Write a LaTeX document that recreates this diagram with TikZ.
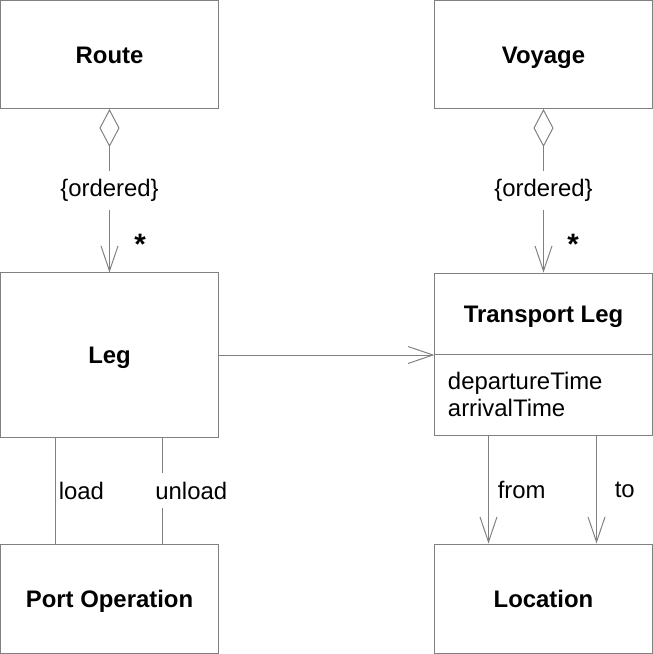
\documentclass[tikz,border=0pt]{standalone}
\usepackage{fontspec}
\setmainfont{Liberation Sans}
\usetikzlibrary{arrows.meta}
\definecolor{umlgray}{RGB}{128,128,128}

\begin{document}
\begin{tikzpicture}[x=0.025cm,y=-0.025cm,
  every node/.style={font=\fontsize{17}{19.8}\selectfont},
  classbox/.style={draw=umlgray,line width=0.7pt,minimum width=5.425cm,inner sep=0pt,
    text height=12.2pt,text depth=0pt,font=\fontsize{17}{19.8}\selectfont\bfseries},
  link/.style={draw=umlgray,line width=0.7pt},
  nav/.style={link,-{Straight Barb[length=0.625cm,width=0.425cm]}},
  agg/.style={link,{Diamond[open,length=0.95cm,width=0.5cm]}-{Straight Barb[length=0.625cm,width=0.425cm]}},
  gaplabel/.style={fill=white,inner xsep=1pt,inner ysep=6pt},
  rolelabel/.style={inner sep=2pt},
  multiplicity/.style={font=\fontsize{21}{24}\selectfont\bfseries}]
\useasboundingbox (0,0) rectangle (653,654);

% classes
\node[classbox,minimum height=2.7cm] (route) at (109.5,54.5) {Route};
\node[classbox,minimum height=2.7cm] (voyage) at (543.5,54.5) {Voyage};
\node[classbox,minimum height=4.1cm] (leg) at (109.5,355) {Leg};
\node[classbox,minimum height=2.025cm] (tleg) at (543.5,313.5) {Transport Leg};
\node[classbox,minimum height=2.025cm,inner xsep=0.325cm,text width=4.775cm,align=left,
  text height=,text depth=,font=\fontsize{17}{19.8}\selectfont] (tattr) at (543.5,394.5) {departureTime\\arrivalTime};
\node[classbox,minimum height=2.725cm] (portop) at (109.5,598.5) {Port Operation};
\node[classbox,minimum height=2.725cm] (location) at (543.5,598.5) {Location};

% aggregations
\draw[agg] (route) -- node[gaplabel] {\{ordered\}} (leg);
\draw[agg] (voyage) -- node[gaplabel] {\{ordered\}} (tleg);
\node[multiplicity] (legmult) at (140,244) {*};
\node[multiplicity] (tlegmult) at (573,244) {*};

% associations
\draw[nav] (leg.east) -- (leg.east -| tleg.west);
\draw[link] ([xshift=1.375cm]leg.south west) -- node[rolelabel,right] {load} ([xshift=1.375cm]portop.north west);
\draw[link] ([xshift=4.05cm]leg.south west) -- node[gaplabel,anchor=west,xshift=-0.225cm] {unload} ([xshift=4.05cm]portop.north west);
\draw[nav] ([xshift=1.35cm]tattr.south west) -- node[rolelabel,right,xshift=0.15cm] {from} ([xshift=1.35cm]location.north west);
\draw[nav] ([xshift=4.05cm]tattr.south west) -- node[rolelabel,right,xshift=0.375cm] {to} ([xshift=4.05cm]location.north west);
\end{tikzpicture}
\end{document}
